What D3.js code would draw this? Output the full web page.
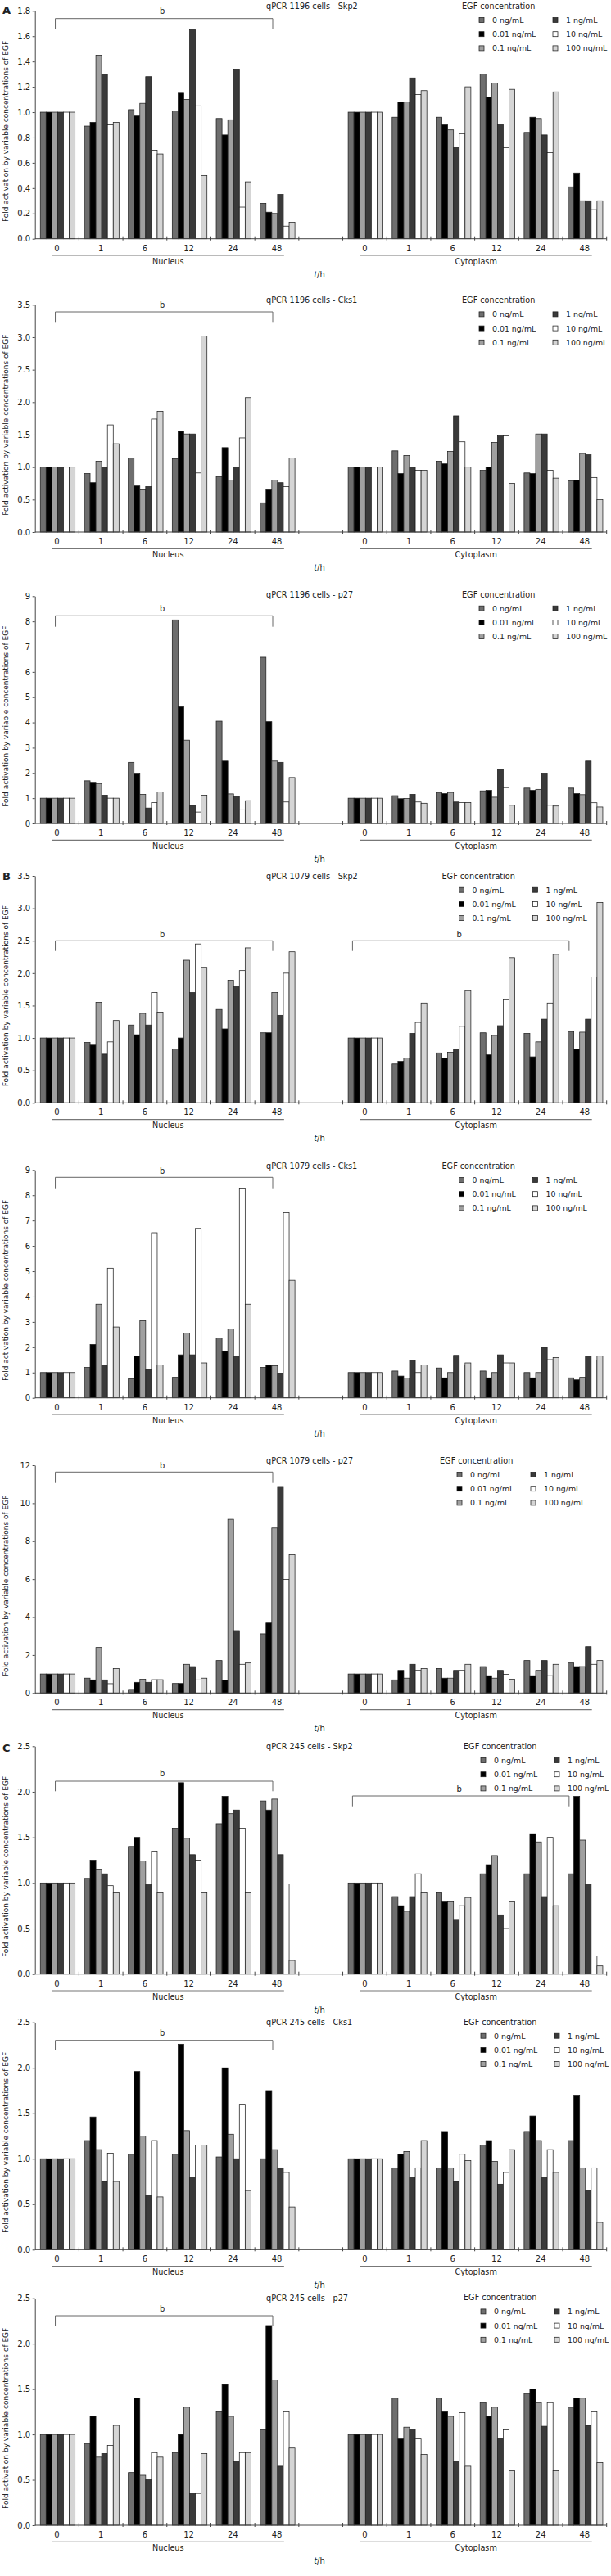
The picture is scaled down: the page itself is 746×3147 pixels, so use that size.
<!DOCTYPE html>
<html><head><meta charset="utf-8">
<script src="https://cdn.jsdelivr.net/npm/d3@7"></script>
<style>body{margin:0;background:#fff}svg{display:block}text{font-family:"DejaVu Sans",Verdana,sans-serif;fill:#222}</style>
</head><body>
<svg id="chart" width="746" height="3147"></svg>
<script>
// ---------- data ----------
const concentrations = ["0 ng/mL","0.01 ng/mL","0.1 ng/mL","1 ng/mL","10 ng/mL","100 ng/mL"];
const timepoints = ["0","1","6","12","24","48"];
const compartments = ["Nucleus","Cytoplasm"];
const panelTitles = ["qPCR 1196 cells - Skp2","qPCR 1196 cells - Cks1","qPCR 1196 cells - p27",
  "qPCR 1079 cells - Skp2","qPCR 1079 cells - Cks1","qPCR 1079 cells - p27",
  "qPCR 245 cells - Skp2","qPCR 245 cells - Cks1","qPCR 245 cells - p27"];
const yMaxes = [1.8,3.5,9,3.5,9,12,2.5,2.5,2.5];
const yTickSteps = [0.2,0.5,1,0.5,1,2,0.5,0.5,0.5];

// rows = time points (0,1,6,12,24,48 h); columns = concentrations
const skp2_1196_nuc = [[1,1,1,1,1,1],[0.89,0.92,1.45,1.30,0.90,0.92],[1.02,0.97,1.07,1.28,0.70,0.67],[1.01,1.15,1.10,1.65,1.05,0.50],[0.95,0.82,0.94,1.34,0.25,0.45],[0.28,0.21,0.20,0.35,0.10,0.13]];
const skp2_1196_cyt = [[1,1,1,1,1,1],[0.96,1.08,1.08,1.27,1.14,1.17],[0.96,0.90,0.86,0.72,0.83,1.20],[1.30,1.12,1.23,0.90,0.72,1.18],[0.84,0.96,0.95,0.82,0.68,1.16],[0.41,0.52,0.30,0.30,0.23,0.30]];
const cks1_1196_nuc = [[1,1,1,1,1,1],[0.90,0.76,1.09,1.00,1.65,1.36],[1.14,0.71,0.65,0.70,1.74,1.86],[1.13,1.55,1.51,1.51,0.91,3.02],[0.85,1.30,0.80,1.00,1.45,2.07],[0.45,0.65,0.80,0.76,0.70,1.14]];
const cks1_1196_cyt = [[1,1,1,1,1,1],[1.25,0.90,1.18,1.00,0.95,0.95],[1.09,1.05,1.24,1.79,1.39,1.00],[0.95,1.00,1.38,1.48,1.48,0.75],[0.91,0.90,1.51,1.51,0.95,0.83],[0.79,0.80,1.21,1.19,0.84,0.50]];
const p27_1196_nuc = [[1,1,1,1,1,1],[1.69,1.63,1.58,1.12,1.00,1.00],[2.42,1.99,1.15,0.61,0.83,1.25],[8.06,4.62,3.30,0.72,0.45,1.12],[4.05,2.47,1.17,1.06,0.54,0.90],[6.58,4.03,2.47,2.42,0.85,1.82]];
const p27_1196_cyt = [[1,1,1,1,1,1],[1.10,0.98,0.99,1.15,0.85,0.80],[1.23,1.18,1.23,0.85,0.83,0.83],[1.29,1.31,1.04,2.15,1.42,0.72],[1.40,1.31,1.35,1.99,0.72,0.69],[1.40,1.18,1.14,2.47,0.82,0.65]];
const skp2_1079_nuc = [[1,1,1,1,1,1],[0.93,0.89,1.55,0.75,0.94,1.27],[1.20,1.05,1.38,1.20,1.70,1.40],[0.83,1.00,2.20,1.70,2.45,2.09],[1.44,1.14,1.89,1.79,2.04,2.39],[1.08,1.08,1.70,1.35,2.00,2.33]];
const skp2_1079_cyt = [[1,1,1,1,1,1],[0.60,0.64,0.69,1.07,1.24,1.54],[0.77,0.69,0.78,0.82,1.18,1.73],[1.08,0.74,1.04,1.19,1.59,2.24],[1.07,0.71,0.94,1.29,1.54,2.29],[1.10,0.83,1.09,1.29,1.94,3.09]];
const cks1_1079_nuc = [[1,1,1,1,1,1],[1.20,2.11,3.70,1.27,5.12,2.80],[0.75,1.65,3.05,1.11,6.52,1.30],[0.81,1.70,2.56,1.70,6.69,1.38],[2.37,1.84,2.72,1.65,8.28,3.70],[1.20,1.29,1.27,0.98,7.31,4.64]];
const cks1_1079_cyt = [[1,1,1,1,1,1],[1.06,0.86,0.78,1.49,1.00,1.30],[1.18,0.79,1.00,1.68,1.30,1.38],[1.06,0.79,1.00,1.70,1.38,1.38],[1.00,0.79,1.00,2.00,1.51,1.59],[0.79,0.71,0.81,1.63,1.49,1.65]];
const p27_1079_nuc = [[1,1,1,1,1,1],[0.78,0.69,2.40,0.69,0.49,1.29],[0.19,0.56,0.72,0.56,0.70,0.70],[0.50,0.50,1.51,1.39,0.69,0.78],[1.71,0.68,9.15,3.29,1.51,1.58],[3.12,3.69,8.69,10.88,5.99,7.28]];
const p27_1079_cyt = [[1,1,1,1,1,1],[0.69,1.19,0.78,1.51,1.19,1.29],[1.29,0.78,0.78,1.19,1.19,1.51],[1.39,0.91,0.78,1.19,0.98,0.73],[1.71,0.91,1.19,1.71,0.91,1.51],[1.58,1.39,1.39,2.44,1.51,1.71]];
const skp2_245_nuc = [[1,1,1,1,1,1],[1.05,1.25,1.15,1.10,0.97,0.90],[1.40,1.50,1.24,0.98,1.35,0.90],[1.60,2.10,1.49,1.31,1.25,0.90],[1.65,1.95,1.76,1.80,1.60,0.90],[1.90,1.80,1.92,1.31,0.99,0.15]];
const skp2_245_cyt = [[1,1,1,1,1,1],[0.85,0.75,0.69,0.85,1.10,0.90],[0.90,0.80,0.80,0.60,0.75,0.84],[1.10,1.20,1.30,0.65,0.50,0.80],[1.10,1.54,1.45,0.85,1.50,0.75],[1.10,1.95,1.47,0.99,0.20,0.09]];
const cks1_245_nuc = [[1,1,1,1,1,1],[1.20,1.46,1.10,0.75,1.06,0.75],[1.05,1.96,1.25,0.60,1.20,0.58],[1.05,2.26,1.31,0.80,1.15,1.15],[1.02,2.00,1.27,1.00,1.60,0.65],[1.00,1.75,1.10,0.90,0.85,0.47]];
const cks1_245_cyt = [[1,1,1,1,1,1],[0.90,1.05,1.08,0.80,0.90,1.20],[0.90,1.30,0.90,0.75,1.05,0.98],[1.15,1.20,0.97,0.72,0.85,1.10],[1.30,1.47,1.20,0.80,1.10,0.85],[1.20,1.70,0.90,0.65,0.90,0.30]];
const p27_245_nuc = [[1,1,1,1,1,1],[0.90,1.20,0.75,0.79,0.88,1.10],[0.58,1.40,0.55,0.50,0.80,0.75],[0.80,1.00,1.30,0.35,0.35,0.79],[1.25,1.55,1.20,0.70,0.80,0.80],[1.05,2.20,1.60,0.65,1.25,0.85]];
const p27_245_cyt = [[1,1,1,1,1,1],[1.40,0.95,1.08,1.05,0.95,0.78],[1.40,1.25,1.20,0.70,1.24,0.65],[1.35,1.20,1.30,0.96,1.05,0.60],[1.45,1.50,1.35,1.09,1.35,0.60],[1.30,1.40,1.40,1.10,1.25,0.69]];

const nucleusSets = [skp2_1196_nuc,cks1_1196_nuc,p27_1196_nuc,skp2_1079_nuc,cks1_1079_nuc,p27_1079_nuc,skp2_245_nuc,cks1_245_nuc,p27_245_nuc];
const cytoplasmSets = [skp2_1196_cyt,cks1_1196_cyt,p27_1196_cyt,skp2_1079_cyt,cks1_1079_cyt,p27_1079_cyt,skp2_245_cyt,cks1_245_cyt,p27_245_cyt];

// ---------- layout (pixel positions, not data) ----------
const layout = [
 {top:13.3,bottom:291.7,titleY:7.3,legY:7.3,legDx:0,letter:"A",letterY:12.5,br:[{g:"Nucleus",line:22.7,leg:35,b:13.3}]},
 {top:372.3,bottom:650,titleY:366.7,legY:366.7,legDx:0,br:[{g:"Nucleus",line:381,leg:393.3,b:372.3}]},
 {top:728.3,bottom:1006,titleY:726,legY:726,legDx:0,br:[{g:"Nucleus",line:752.3,leg:765.7,b:743.3}]},
 {top:1070,bottom:1347.3,titleY:1070,legY:1070,legDx:-24.5,letter:"B",letterY:1070,br:[{g:"Nucleus",line:1149.3,leg:1161.7,b:1141},{g:"Cytoplasm",line:1149.3,leg:1161.7,b:1141}]},
 {top:1429.3,bottom:1707.7,titleY:1424.3,legY:1424.3,legDx:-24.5,br:[{g:"Nucleus",line:1438.3,leg:1451.7,b:1430}]},
 {top:1790,bottom:2068.3,titleY:1784.3,legY:1784.3,legDx:-27,br:[{g:"Nucleus",line:1798.3,leg:1811.7,b:1790}]},
 {top:2133.3,bottom:2411.7,titleY:2133.3,legY:2133.3,legDx:2,letter:"C",letterY:2135,br:[{g:"Nucleus",line:2176,leg:2188.3,b:2166},{g:"Cytoplasm",line:2194,leg:2206.7,b:2185}]},
 {top:2470.7,bottom:2748.3,titleY:2470.7,legY:2470,legDx:2,br:[{g:"Nucleus",line:2492.7,leg:2505,b:2483.3}]},
 {top:2807.7,bottom:3085,titleY:2807.7,legY:2806.7,legDx:2,br:[{g:"Nucleus",line:2829,leg:2841.7,b:2820}]}
];
const colors = ["#6e6e6e","#000000","#a0a0a0","#3a3a3a","#ffffff","#d5d5d5"];

const svg = d3.select("#chart");
const slots = [...timepoints.map(t=>"Nucleus|"+t),"gap",...timepoints.map(t=>"Cytoplasm|"+t)];
const x0 = d3.scaleBand().domain(slots).range([42.7,740.7]).paddingInner(0).paddingOuter(0);
const x1 = d3.scaleBand().domain(concentrations).range([0,x0.bandwidth()]).paddingInner(0).paddingOuter(0.8).align(0.58);
const color = d3.scaleOrdinal().domain(concentrations).range(colors);
const cx = s => x0(s)+x0.bandwidth()/2;

layout.forEach((L,pi)=>{
  const g = svg.append("g");
  const y = d3.scaleLinear().domain([0,yMaxes[pi]]).range([L.bottom,L.top]);
  const step = yTickSteps[pi];
  const ticks = d3.range(0,yMaxes[pi]+step/2,step);
  const fmt = step<1 ? d3.format(".1f") : d3.format("d");

  // bars
  const rows = [];
  compartments.forEach((c,ci)=>{
    const set = ci===0 ? nucleusSets[pi] : cytoplasmSets[pi];
    timepoints.forEach((t,ti)=>{
      concentrations.forEach((k,ki)=>rows.push({slot:c+"|"+t,conc:k,v:set[ti][ki]}));
    });
  });
  g.selectAll("rect.bar").data(rows).join("rect").attr("class","bar")
    .attr("x",d=>x0(d.slot)+x1(d.conc)).attr("width",x1.bandwidth())
    .attr("y",d=>y(d.v)).attr("height",d=>y(0)-y(d.v))
    .attr("fill",d=>color(d.conc)).attr("stroke","#1e1e1e").attr("stroke-width",0.75);

  // y axis
  const ya = g.append("g").attr("transform","translate(42.7,0)")
    .call(d3.axisLeft(y).tickValues(ticks).tickFormat(fmt).tickSize(3).tickSizeOuter(0).tickPadding(2.5));
  ya.select(".domain").attr("stroke","#444");
  ya.selectAll(".tick line").attr("stroke","#444");
  ya.selectAll("text").style("font-family","'DejaVu Sans',sans-serif").style("font-size","10px").attr("fill","#222");

  // x axis line + boundary ticks
  g.append("line").attr("x1",42.7).attr("x2",740.7).attr("y1",L.bottom).attr("y2",L.bottom).attr("stroke","#444");
  const bounds = slots.slice(1).map(s=>x0(s)).concat([740.7]);
  g.selectAll("line.xt").data(bounds).join("line").attr("class","xt")
    .attr("x1",d=>d).attr("x2",d=>d).attr("y1",L.bottom-3).attr("y2",L.bottom+2).attr("stroke","#444");
  // category labels
  g.selectAll("text.cat").data(slots.filter(s=>s!=="gap")).join("text").attr("class","cat")
    .attr("x",cx).attr("y",L.bottom+11.5).attr("text-anchor","middle").attr("dominant-baseline","central")
    .style("font-size","10px").text(d=>d.split("|")[1]);
  // compartment lines and labels
  compartments.forEach(c=>{
    const xa = x0(c+"|0")+21, xb = x0(c+"|48")+x0.bandwidth()-18;
    g.append("line").attr("x1",xa).attr("x2",xb).attr("y1",L.bottom+20.3).attr("y2",L.bottom+20.3).attr("stroke","#777").attr("stroke-width",1.2);
    g.append("text").attr("x",(xa+xb)/2).attr("y",L.bottom+27.5).attr("text-anchor","middle").attr("dominant-baseline","central")
      .style("font-size","9.7px").text(c);
  });
  // t/h
  const th = g.append("text").attr("x",390).attr("y",L.bottom+43).attr("text-anchor","middle").attr("dominant-baseline","central").style("font-size","10px");
  th.append("tspan").style("font-style","italic").text("t");
  th.append("tspan").text("/h");

  // y label
  const ymid = (L.top+L.bottom)/2+8;
  g.append("text").attr("transform",`translate(7.3,${ymid}) rotate(-90)`).attr("text-anchor","middle")
    .attr("dominant-baseline","central").style("font-size","9px").attr("fill","#333")
    .text("Fold activation by variable concentrations of EGF");

  // title
  g.append("text").attr("x",325).attr("y",L.titleY).attr("dominant-baseline","central").style("font-size","9.7px").text(panelTitles[pi]);

  // legend
  const lg = g.append("g").attr("transform",`translate(${L.legDx},${L.legY})`);
  lg.append("text").attr("x",564).attr("y",0).attr("dominant-baseline","central").style("font-size","9.7px").text("EGF concentration");
  const li = lg.selectAll("g.li").data(concentrations).join("g").attr("class","li")
    .attr("transform",(d,i)=>`translate(${i<3?585:675},${17.2*((i%3)+1)})`);
  li.append("rect").attr("x",0).attr("y",-3).attr("width",6).attr("height",6).attr("fill",d=>color(d)).attr("stroke","#1e1e1e").attr("stroke-width",0.75);
  li.append("text").attr("x",16).attr("y",0).attr("dominant-baseline","central").style("font-size","9.4px").text(d=>d);

  // significance brackets
  L.br.forEach(b=>{
    const off = b.g==="Nucleus" ? [-2,-5] : [-15,-19];
    const xa = cx(b.g+"|0")+off[0], xb = cx(b.g+"|48")+off[1];
    g.append("path").attr("d",`M${xa},${b.leg}V${b.line}H${xb}V${b.leg}`).attr("fill","none").attr("stroke","#666").attr("stroke-width",1);
    g.append("text").attr("x",(xa+xb)/2-2).attr("y",b.b).attr("text-anchor","middle").attr("dominant-baseline","central").style("font-size","10px").text("b");
  });

  if(L.letter){
    g.append("text").attr("x",3).attr("y",L.letterY).attr("dominant-baseline","central").style("font-size","13px").style("font-weight","bold").attr("fill","#111").text(L.letter);
  }
});
</script>
</body></html>
